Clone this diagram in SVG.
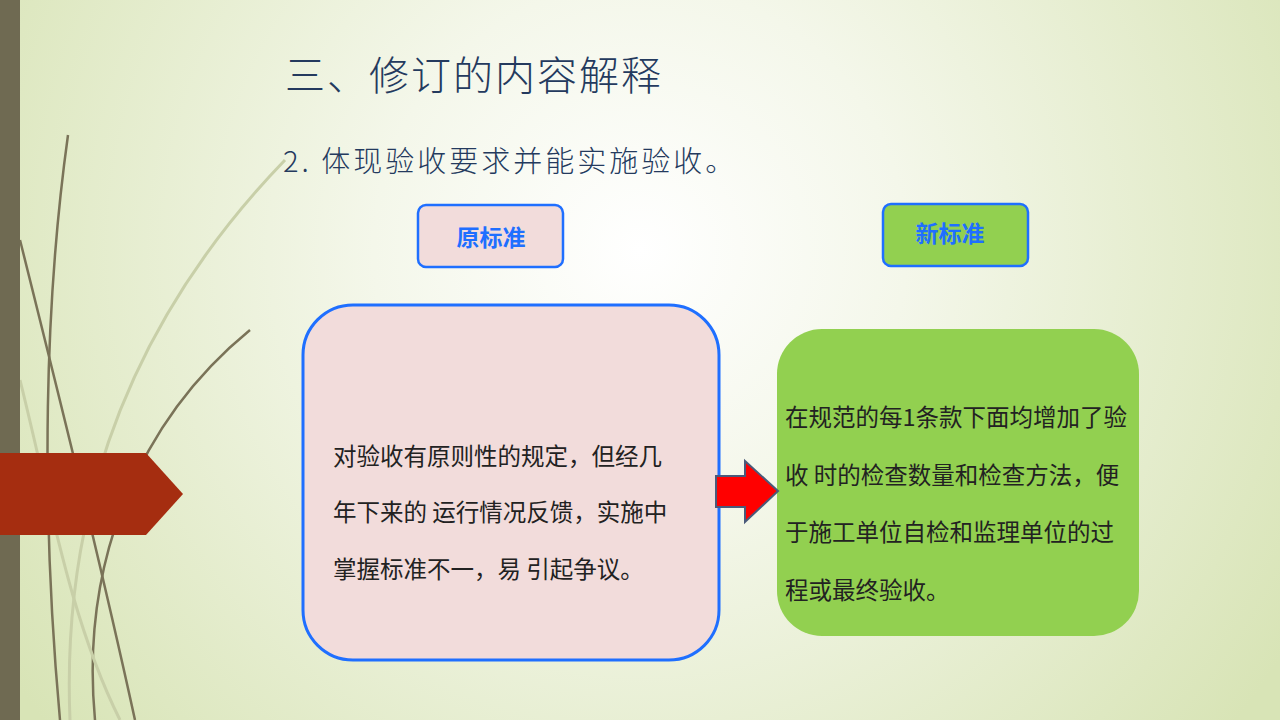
<svg xmlns="http://www.w3.org/2000/svg" width="1280" height="720" viewBox="0 0 1280 720">
<defs>
<radialGradient id="bg" cx="640" cy="250" r="760" gradientUnits="userSpaceOnUse">
<stop offset="0" stop-color="#ffffff"/><stop offset="0.35" stop-color="#f4f7ea"/><stop offset="1" stop-color="#d8e4b6"/>
</radialGradient>
<style>
.t{font-family:"Noto Sans CJK SC","Noto Sans",sans-serif}
.body{font-size:23.5px;fill:#222}
.lbl{font-size:23px;fill:#1f6fff;text-anchor:middle;font-weight:bold}
</style>
</defs>
<rect width="1280" height="720" fill="url(#bg)"/>
<g fill="none" stroke="#7a7358" stroke-width="2.5">
<path d="M68 135 C45 300 40 500 60 720"/>
<path d="M20 240 C60 400 100 560 135 720"/>
<path d="M250 330 C140 420 80 560 95 720"/>
</g>
<g fill="none" stroke="#c8cfa8" stroke-width="3">
<path d="M285 160 C150 300 60 480 70 720"/>
<path d="M20 380 C50 500 70 620 120 720"/>
</g>
<rect x="0" y="0" width="20" height="720" fill="#6f6a52"/>
<path d="M0 453 H146 L183 494 L146 535 H0 Z" fill="#a52d10"/>
<text class="t" x="285" y="90" font-size="40" fill="#243a5e" font-weight="300" letter-spacing="2">三、修订的内容解释</text>
<text class="t" x="283" y="172" font-size="29" fill="#243a5e" font-weight="300" letter-spacing="3">2.  体现验收要求并能实施验收。</text>
<g id="old-label"><rect x="418" y="205" width="145" height="62" rx="8" fill="#f2dcdb" stroke="#1f6fff" stroke-width="2.5"/>
<text class="t lbl" x="491" y="246">原标准</text></g>
<g id="new-label"><rect x="883" y="204" width="145" height="62" rx="8" fill="#92d050" stroke="#1f6fff" stroke-width="2.5"/>
<text class="t lbl" x="950" y="242">新标准</text></g>
<g id="old-box"><rect x="303" y="305" width="416" height="355" rx="50" fill="#f2dcdb" stroke="#1f6fff" stroke-width="3"/>
<text class="t body" x="333" y="465">对验收有原则性的规定，但经几</text>
<text class="t body" x="333" y="521">年下来的 运行情况反馈，实施中</text>
<text class="t body" x="333" y="578">掌握标准不一，易 引起争议。</text></g>
<g id="new-box"><rect x="777" y="329" width="362" height="307" rx="45" fill="#92d050"/>
<text class="t body" x="785" y="426">在规范的每1条款下面均增加了验</text>
<text class="t body" x="785" y="484">收 时的检查数量和检查方法，便</text>
<text class="t body" x="785" y="541">于施工单位自检和监理单位的过</text>
<text class="t body" x="785" y="599">程或最终验收。</text></g>
<g id="connectors"><path d="M716 476 H745 V461 L778 491 L745 522 V507 H716 Z" fill="#ff0000" stroke="#4a5a7a" stroke-width="2"/></g>
</svg>
